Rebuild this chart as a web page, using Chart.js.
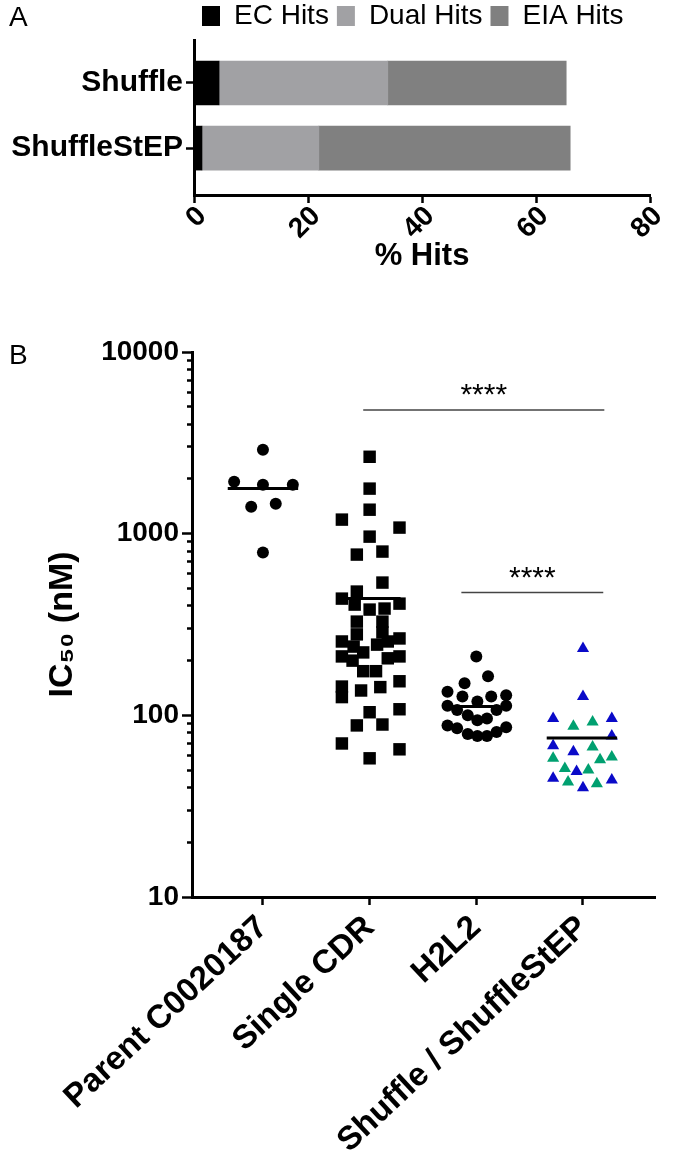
<!DOCTYPE html>
<html>
<head>
    <title>% Hits and IC50 by library</title>
    <script src="https://cdn.jsdelivr.net/npm/chart.js"></script>
    <style>
        body { margin: 0; background: #fff; }
        #wrap { position: relative; width: 677px; height: 1153px; font-family: 'Liberation Sans', Arial, sans-serif; }
        .panel { position: absolute; left: 9px; font-size: 28px; line-height: 1; }
        #hitsBox { position: absolute; left: 0; top: 0; width: 677px; height: 300px; }
        #ic50Box { position: absolute; left: 0; top: 300px; width: 677px; height: 853px; }
    </style>
</head>
<body>
<div id="wrap">
    <div id="hitsBox"><canvas id="hitsChart"></canvas></div>
    <div id="ic50Box"><canvas id="ic50Chart"></canvas></div>
    <div class="panel" style="top:3px">A</div>
    <div class="panel" style="top:341px">B</div>
</div>
<script>
    // Panel A: % hits per library
    const libraries = ['Shuffle', 'ShuffleStEP'];
    const ecHits = [4.4, 1.4];
    const dualHits = [29.6, 20.5];
    const eiaHits = [31.3, 44.1];

    // Panel B: IC50 (nM) per group, with the horizontal spread of each dot
    const groups = ['Parent C0020187', 'Single CDR', 'H2L2', 'Shuffle / ShuffleStEP'];
    const parentIC50 = [2900, 1930, 1860, 1860, 1405, 1460, 787];
    const parentSpread = [0, -0.27, 0, 0.28, -0.11, 0.12, 0];
    const singleCdrIC50 = [2650, 1770, 1355, 1195, 1080, 963, 767, 797, 538, 480,
        439, 407, 382, 387, 412, 328, 328, 279, 286, 255,
        265, 239, 222, 245, 255, 211, 200, 175, 175, 206,
        211, 144, 126, 137, 143, 154, 104, 108, 88, 89,
        70, 65, 58];
    const singleCdrSpread = [0, 0, 0, -0.26, 0.28, 0, -0.12, 0.12, 0.12, -0.12,
        -0.26, -0.14, 0, 0.14, 0.28, -0.12, 0.12, -0.12, 0.12, -0.26,
        0.28, -0.15, -0.06, 0.07, 0.17, -0.26, -0.16, -0.06, 0.06, 0.17,
        0.28, -0.26, -0.26, -0.08, 0.10, 0.28, 0, 0.28, -0.12, 0.12,
        -0.26, 0.28, 0];
    const h2l2IC50 = [211, 164, 150, 135, 127, 119, 127, 129, 113, 107, 100,
        94, 96, 107, 113, 88, 85, 79, 77, 77, 81, 86];
    const h2l2Spread = [0, 0.11, -0.11, -0.27, -0.13, 0.01, 0.14, 0.28, -0.27, -0.18, -0.08,
        0.01, 0.10, 0.19, 0.28, -0.27, -0.18, -0.08, 0.01, 0.10, 0.19, 0.28];
    const shuffleIC50 = [233, 127, 96, 96, 77, 68, 63, 49, 45, 44, 40];
    const shuffleSpread = [0, 0, -0.28, 0.27, 0.27, -0.28, -0.09, -0.06, -0.28, 0.27, 0];
    const shuffleStepIC50 = [87, 92, 67, 58, 57, 59, 51, 50, 43, 42];
    const shuffleStepSpread = [-0.09, 0.09, 0.09, -0.28, 0.16, 0.27, -0.17, 0.05, -0.14, 0.13];

    const groupMeans = [1770, 440, 112, 75];
    const meanFrom = [-0.33, -0.26, -0.22, -0.34];
    const meanTo = [0.33, 0.29, 0.22, 0.32];

    const sigFrom = [0.94, 1.86];
    const sigTo = [3.2, 3.19];
    const sigLevel = [4800, 475];
    const sigText = ['****', '****'];

    const ic50Labels = [10, 100, 1000, 10000];

    const FONT = "'Liberation Sans', Arial, sans-serif";
    Chart.defaults.font.family = FONT;
    Chart.defaults.color = '#000';

    const axisGrid = { drawOnChartArea: false, offset: false, tickLength: 8, tickWidth: 2.5, tickColor: '#000' };
    const axisBorder = { color: '#000', width: 3 };

    // ---------- Panel A ----------
    const barData = vals => vals.map((v, i) => ({ x: v, y: i }));

    const legendHeight = {
        id: 'legendHeight',
        beforeInit(chart) {
            const fit = chart.legend.fit;
            chart.legend.fit = function () {
                fit.bind(chart.legend)();
                this.height = 46;
            };
        }
    };

    new Chart(document.getElementById('hitsChart'), {
        type: 'bar',
        data: {
            datasets: [
                { label: 'EC Hits', data: barData(ecHits), backgroundColor: '#000000', stack: 'hits' },
                { label: 'Dual Hits', data: barData(dualHits), backgroundColor: '#a1a1a4', stack: 'hits' },
                { label: 'EIA Hits', data: barData(eiaHits), backgroundColor: '#808080', stack: 'hits' }
            ]
        },
        options: {
            indexAxis: 'y',
            responsive: true,
            maintainAspectRatio: false,
            animation: false,
            barThickness: 44,
            layout: { padding: { top: -6, right: 27, bottom: 0, left: 0 } },
            plugins: {
                tooltip: { enabled: false },
                legend: {
                    position: 'top',
                    align: 'start',
                    fullSize: false,
                    labels: { boxWidth: 18, boxHeight: 20, padding: 8, font: { size: 28 }, color: '#000' }
                }
            },
            scales: {
                x: {
                    type: 'linear',
                    stacked: true,
                    min: 0,
                    max: 80,
                    ticks: { stepSize: 20, minRotation: 45, maxRotation: 45, padding: -3, labelOffset: 8, font: { size: 28, weight: 'bold' } },
                    grid: axisGrid,
                    border: axisBorder,
                    title: { display: true, text: '% Hits', font: { size: 31, weight: 'bold' }, padding: { top: 4, bottom: 25 } },
                    afterFit: s => { s.height = 105; }
                },
                y: {
                    type: 'linear',
                    reverse: true,
                    offset: false,
                    min: -0.66,
                    max: 1.72,
                    afterBuildTicks: s => { s.ticks = libraries.map((_, i) => ({ value: i })); },
                    ticks: { autoSkip: false, callback: v => libraries[v], font: { size: 30, weight: 'bold' } },
                    grid: axisGrid,
                    border: axisBorder,
                    afterFit: s => { s.width = 194; }
                }
            }
        },
        plugins: [legendHeight]
    });

    // ---------- Panel B ----------
    const dots = (vals, spread, g) => vals.map((v, i) => ({ x: g + spread[i], y: v }));

    const ic50Ticks = [];
    for (let k = 1; k <= 3; k++) {
        for (let d = 1; d <= 9; d++) ic50Ticks.push(d * Math.pow(10, k));
    }
    ic50Ticks.push(10000);

    const meanSets = groupMeans.map((m, g) => ({
        type: 'line',
        data: [{ x: g + meanFrom[g], y: m }, { x: g + meanTo[g], y: m }],
        borderColor: '#000', borderWidth: 3, pointRadius: 0
    }));
    const sigSets = sigLevel.map((lv, i) => ({
        type: 'line',
        data: [{ x: sigFrom[i], y: lv }, { x: sigTo[i], y: lv }],
        borderColor: '#444', borderWidth: 1.5, pointRadius: 0
    }));

    const sigMarks = {
        id: 'sigMarks',
        afterDatasetsDraw(chart) {
            const { ctx, scales: { x, y } } = chart;
            ctx.save();
            ctx.font = '30px ' + FONT;
            ctx.fillStyle = '#000';
            ctx.textAlign = 'center';
            ctx.textBaseline = 'middle';
            sigText.forEach((t, i) => {
                const px = x.getPixelForValue((sigFrom[i] + sigTo[i]) / 2);
                const py = y.getPixelForValue(sigLevel[i]) - 14;
                ctx.fillText(t, px, py);
            });
            ctx.restore();
        }
    };

    new Chart(document.getElementById('ic50Chart'), {
        type: 'scatter',
        data: {
            datasets: [
                ...meanSets,
                ...sigSets,
                { label: groups[0], data: dots(parentIC50, parentSpread, 0), pointStyle: 'circle', pointRadius: 6, backgroundColor: '#000', borderWidth: 0 },
                { label: groups[1], data: dots(singleCdrIC50, singleCdrSpread, 1), pointStyle: 'rect', pointRadius: 8.8, backgroundColor: '#000', borderWidth: 0 },
                { label: groups[2], data: dots(h2l2IC50, h2l2Spread, 2), pointStyle: 'circle', pointRadius: 6, backgroundColor: '#000', borderWidth: 0 },
                { label: 'Shuffle', data: dots(shuffleIC50, shuffleSpread, 3), pointStyle: 'triangle', pointRadius: 7, backgroundColor: '#0a0ac8', borderWidth: 0 },
                { label: 'ShuffleStEP', data: dots(shuffleStepIC50, shuffleStepSpread, 3), pointStyle: 'triangle', pointRadius: 7, backgroundColor: '#00a070', borderWidth: 0 }
            ]
        },
        options: {
            responsive: true,
            maintainAspectRatio: false,
            animation: false,
            layout: { padding: { top: 52, right: 22, bottom: 0, left: 0 } },
            plugins: { legend: { display: false }, tooltip: { enabled: false } },
            scales: {
                x: {
                    type: 'linear',
                    min: -0.665,
                    max: 3.675,
                    afterBuildTicks: s => { s.ticks = groups.map((_, i) => ({ value: i })); },
                    ticks: { autoSkip: false, minRotation: 43, maxRotation: 43, callback: v => groups[v], font: { size: 33, weight: 'bold' } },
                    grid: axisGrid,
                    border: axisBorder,
                    afterFit: s => { s.height = 256; }
                },
                y: {
                    type: 'logarithmic',
                    min: 10,
                    max: 10000,
                    afterBuildTicks: s => { s.ticks = ic50Ticks.map(v => ({ value: v, major: ic50Labels.includes(v) })); },
                    ticks: { autoSkip: false, callback: v => ic50Labels.includes(v) ? String(v) : '', font: { size: 28, weight: 'bold' } },
                    grid: {
                        drawOnChartArea: false, tickLength: 10, tickWidth: 2.5, tickColor: '#000',
                        tickBorderDash: c => (c.tick && c.tick.major) ? [] : [0, 5, 6, 50]
                    },
                    border: axisBorder,
                    title: { display: true, text: 'IC₅₀ (nM)', font: { size: 34, weight: 'bold' }, padding: { top: 42, bottom: 0 } },
                    afterFit: s => { s.width = 192; }
                }
            }
        },
        plugins: [sigMarks]
    });
</script>
</body>
</html>
